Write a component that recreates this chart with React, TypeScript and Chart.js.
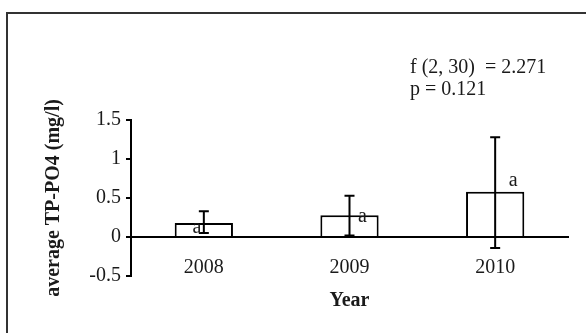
import React, { useEffect, useRef } from "react";
import { Chart, registerables } from "chart.js";

Chart.register(...registerables);

const years = ["2008", "2009", "2010"];
const means = [0.18, 0.28, 0.58];
const errHigh = [0.33, 0.53, 1.28];
const errLow = [0.05, 0.02, -0.14];
const letters = ["a", "a", "a"];
const statLines = ["f (2, 30)  = 2.271", "p = 0.121"];
const yTicks = [-0.5, 0, 0.5, 1, 1.5];

const SERIF = "'Liberation Serif', 'Times New Roman', serif";
const TEXT = "#1a1a1a";
const FS = 20;

const annotations = {
  id: "annotations",
  afterDatasetsDraw(chart: any) {
    const ctx = chart.ctx;
    const ys = chart.scales.y;
    const meta = chart.getDatasetMeta(0);
    ctx.save();
    ctx.strokeStyle = "#000";
    ctx.lineWidth = 2;
    meta.data.forEach((bar: any, i: number) => {
      const x = bar.x;
      const hi = ys.getPixelForValue(errHigh[i]);
      const lo = ys.getPixelForValue(errLow[i]);
      ctx.beginPath();
      ctx.moveTo(x, hi);
      ctx.lineTo(x, lo);
      ctx.moveTo(x - 5, hi);
      ctx.lineTo(x + 5, hi);
      ctx.moveTo(x - 5, lo);
      ctx.lineTo(x + 5, lo);
      ctx.stroke();
    });
    // letters
    const letterDx = [-7, 13, 18];
    const letterDy = [5, 2, -11];
    ctx.fillStyle = TEXT;
    ctx.font = `${FS}px ${SERIF}`;
    ctx.textAlign = "center";
    ctx.textBaseline = "middle";
    meta.data.forEach((bar: any, i: number) => {
      const top = ys.getPixelForValue(means[i]);
      ctx.fillText(letters[i], bar.x + letterDx[i], top + letterDy[i]);
    });
    // stats
    ctx.textAlign = "left";
    ctx.font = `${FS}px ${SERIF}`;
    ctx.fillText(statLines[0], 410, 68);
    ctx.fillText(statLines[1], 410, 90);
    // x title
    const area = chart.chartArea;
    ctx.textAlign = "center";
    ctx.font = `bold ${FS}px ${SERIF}`;
    ctx.fillText("Year", (area.left + area.right) / 2, 301);
    ctx.restore();
  },
};

export default function App() {
  const ref = useRef<HTMLCanvasElement>(null);
  useEffect(() => {
    document.body.style.margin = "0";
    const chart = new Chart(ref.current!, {
      type: "bar",
      data: {
        labels: years,
        datasets: [
          {
            data: means,
            backgroundColor: "#ffffff",
            borderColor: "#000",
            borderWidth: 2,
            barPercentage: 0.4,
            categoryPercentage: 1,
          },
        ],
      },
      options: {
        animation: false,
        responsive: false,
        layout: { padding: { left: 0, top: 120, right: 18, bottom: 57 } },
        plugins: { legend: { display: false }, tooltip: { enabled: false } },
        scales: {
          x: {
            position: { y: 0 } as any,
            grid: { display: false, drawTicks: false },
            border: { display: true, color: "#000", width: 2 },
            ticks: { padding: 19, color: TEXT, font: { family: SERIF, size: FS } },
          },
          y: {
            min: -0.5,
            max: 1.5,
            afterFit: (s: any) => {
              s.width = 131;
            },
            afterBuildTicks: (s: any) => {
              s.ticks = yTicks.map((v) => ({ value: v }));
            },
            grid: {
              display: true,
              drawOnChartArea: false,
              drawTicks: true,
              tickLength: 5,
              color: "#000",
              lineWidth: 2,
            },
            border: { display: true, color: "#000", width: 2 },
            ticks: {
              padding: 5,
              color: TEXT,
              font: { family: SERIF, size: FS },
              callback: (v: any) => String(v),
            },
            title: {
              display: true,
              text: "average TP-PO4 (mg/l)",
              color: TEXT,
              font: { family: SERIF, size: FS, weight: "bold" },
              padding: { top: 42, bottom: 0 },
            },
          },
        },
      },
      plugins: [annotations],
    });
    return () => chart.destroy();
  }, []);
  return (
    <div style={{ position: "relative", width: 586, height: 333, overflow: "hidden", background: "#fff" }}>
      <div
        style={{
          position: "absolute",
          left: 6,
          top: 12,
          width: 620,
          height: 360,
          border: "2px solid #333",
          boxSizing: "border-box",
        }}
      />
      <canvas ref={ref} width={586} height={333} style={{ position: "absolute", left: 0, top: 0 }} />
    </div>
  );
}
